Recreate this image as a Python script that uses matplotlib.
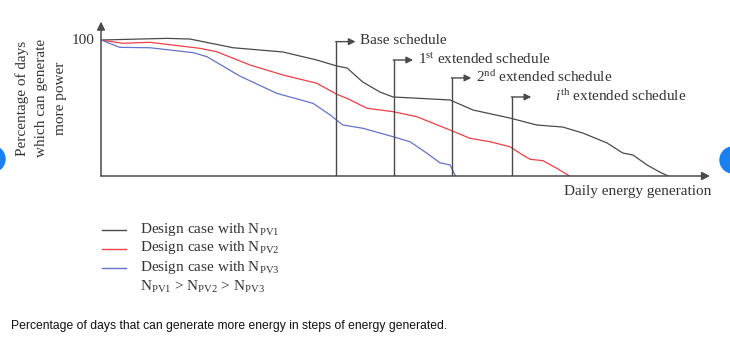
import matplotlib.pyplot as plt
from matplotlib.patches import Ellipse

plt.rcParams['font.family'] = ['Liberation Serif', 'DejaVu Serif']
plt.rcParams['mathtext.fontset'] = 'custom'
plt.rcParams['mathtext.rm'] = 'Liberation Serif'
plt.rcParams['mathtext.it'] = 'Liberation Serif:italic'
plt.rcParams['mathtext.default'] = 'regular'

# curves (x: energy, arbitrary units; y: % of days)
x_pv1 = [0, 10.9, 14.7, 21.8, 30.0, 35.6, 38.9, 40.6, 43.2, 46.0, 48.2, 57.6,
         61.4, 67.5, 71.9, 76.2, 79.5, 83.5, 86.1, 87.8, 90.1, 92.2, 93.6]
y_pv1 = [100, 101.2, 100.7, 94.3, 91.2, 85.3, 80.9, 79.4, 69.1, 61.8, 58.1, 55.9,
         48.5, 42.6, 37.5, 36.0, 31.6, 24.3, 16.9, 15.4, 8.1, 2.9, 0]

x_pv2 = [0, 3.6, 8.1, 16.3, 19.1, 24.6, 30.0, 35.6, 38.9, 40.6, 43.9, 48.2,
         52.1, 57.6, 60.9, 64.2, 67.5, 69.6, 70.8, 72.9, 75.2, 77.3]
y_pv2 = [100, 97.6, 98.3, 93.9, 91.4, 81.6, 74.3, 68.2, 60.1, 57.1, 49.8, 47.3,
         43.6, 33.8, 27.7, 25.2, 21.5, 15.4, 12.3, 11.3, 5.7, 0]

x_pv3 = [0, 3.1, 8.1, 15.2, 17.5, 22.9, 29.0, 35.0, 37.8, 39.9, 43.2, 48.2,
         51.0, 53.8, 55.9, 57.6, 58.5]
y_pv3 = [100, 94.6, 94.3, 90.7, 87.7, 73.5, 60.8, 53.4, 44.9, 37.5, 35.1, 28.9,
         25.2, 16.7, 9.8, 8.1, 0]

# schedule markers: x position, height of the bend, label
sched_x = [38.8, 48.3, 57.9, 67.8]
sched_top = [98.8, 85.3, 72.1, 58.1]
sched_labels = ['Base schedule', '1$^{st}$ extended schedule',
                '2$^{nd}$ extended schedule', '$\\mathit{i}^{th}$ extended schedule']

legend_labels = ['Design case with N$_{PV1}$', 'Design case with N$_{PV2}$',
                 'Design case with N$_{PV3}$']
legend_note = 'N$_{PV1}$ > N$_{PV2}$ > N$_{PV3}$'

c_black = '#4a4a4a'
c_red = '#ee3e46'
c_blue = '#6373c9'
c_text = '#333333'
fs = 11

W, H = 730, 352
fig = plt.figure(figsize=(7.3, 3.52), dpi=100)
ax = fig.add_axes([101 / W, (H - 176) / H, 614 / W, 161 / H])
ax.set_xlim(0, 614 / 6.06)
ax.set_ylim(0, 161 / 1.36)
ax.axis('off')

# axes with arrows
ax.annotate('', xy=(0, 113.5), xytext=(0, 0),
            arrowprops=dict(arrowstyle='-|>', color=c_black, lw=1.1,
                            mutation_scale=12, shrinkA=0, shrinkB=0))
ax.annotate('', xy=(100.5, 0), xytext=(0, 0),
            arrowprops=dict(arrowstyle='-|>', color=c_black, lw=1.1,
                            mutation_scale=12, shrinkA=0, shrinkB=0))

ax.plot(x_pv1, y_pv1, color=c_black, lw=0.9)
ax.plot(x_pv2, y_pv2, color=c_red, lw=0.9)
ax.plot(x_pv3, y_pv3, color=c_blue, lw=0.9)

for sx, st, lab in zip(sched_x, sched_top, sched_labels):
    ax.plot([sx, sx], [0, st], color=c_black, lw=1.0)
    ax.annotate('', xy=(sx + 3.2, st), xytext=(sx - 0.08, st),
                arrowprops=dict(arrowstyle='-|>', color=c_black, lw=1.0,
                                mutation_scale=10, shrinkA=0, shrinkB=0))
    tx = sx + 4.0 if not lab.startswith('$') else sx + 7.2
    ax.text(tx, st + 0.5, lab, fontsize=fs, color=c_text, va='center', ha='left')

ax.text(-1.0, 100, '100', fontsize=fs, color=c_text, ha='right', va='center')

fig.text(711 / W, 1 - 192 / H, 'Daily energy generation', fontsize=fs,
         color=c_text, ha='right', va='center')
fig.text(41 / W, 1 - 98 / H, 'Percentage of days\nwhich can generate\nmore power',
         fontsize=fs, color=c_text, rotation=90, ha='center', va='center',
         multialignment='center', linespacing=1.6)

# legend drawn by hand to keep its layout
rows = [230, 249, 268]
for yy, col, lab in zip(rows, [c_black, c_red, c_blue], legend_labels):
    fig.add_artist(plt.Line2D([102 / W, 126 / W], [1 - yy / H, 1 - yy / H],
                              color=col, lw=1.0))
    fig.text(140 / W, 1 - (yy - 1) / H, lab, fontsize=fs, color=c_text,
             ha='left', va='center')
fig.text(140 / W, 1 - 287 / H, legend_note, fontsize=fs, color=c_text,
         ha='left', va='center')

fig.text(11 / W, 1 - 326 / H,
         'Percentage of days that can generate more energy in steps of energy generated.',
         fontsize=8.75, family=['Liberation Sans', 'DejaVu Sans'], color='#111111',
         ha='left', va='center')

# page navigation dots at the edges
for cx, cy in [(-8, 159), (733, 160)]:
    fig.add_artist(Ellipse((cx / W, 1 - cy / H), 26 / W, 26 / H,
                           transform=fig.transFigure, color='#1a7ff0',
                           clip_on=False))

fig.savefig('out.png', dpi=100)
